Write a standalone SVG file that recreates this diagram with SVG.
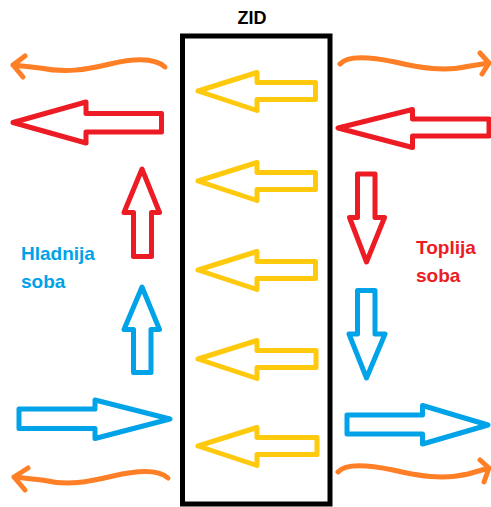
<svg xmlns="http://www.w3.org/2000/svg" width="491" height="507" viewBox="0 0 491 507">
<style>
.blk{fill:none;stroke-width:5;stroke-linejoin:round}
.y{stroke:#FFC90E}
.r{stroke:#ED1C24}
.b{stroke:#00A2E8}
.o{fill:none;stroke:#FF7F27;stroke-width:5;stroke-linecap:round;stroke-linejoin:round}
.lbl{font-family:"Liberation Sans",Arial,sans-serif;font-weight:bold;font-size:19px}
</style>
<rect width="491" height="507" fill="#fff"/>
<g id="wall">
<rect x="182.5" y="36" width="147.5" height="468" fill="none" stroke="#000" stroke-width="5"/>
<text x="252" y="24" text-anchor="middle" class="lbl" style="font-size:18px" fill="#000">ZID</text>
</g>
<g id="cold-room">
<text class="lbl" fill="#00A2E8" x="21" y="260">Hladnija</text>
<text class="lbl" fill="#00A2E8" x="21" y="287.5">soba</text>
</g>
<g id="warm-room">
<text class="lbl" fill="#ED1C24" x="416" y="254">Toplija</text>
<text class="lbl" fill="#ED1C24" x="416" y="281.5">soba</text>
</g>
<g id="connectors">
<g id="heat-through-wall">
<polygon class="blk y" points="198,91 257,72.5 257,82.5 315.5,82.5 315.5,99.5 257,99.5 257,110.5"/>
<polygon class="blk y" points="198,181 257,162.5 257,172.5 315.5,172.5 315.5,189.5 257,189.5 257,200.5"/>
<polygon class="blk y" points="198,270 257,251.5 257,261.5 315.5,261.5 315.5,278.5 257,278.5 257,289.5"/>
<polygon class="blk y" points="198,359 257,340.5 257,350.5 316,350.5 316,367.5 257,367.5 257,378.5"/>
<polygon class="blk y" points="198,446 257,427.5 257,437.5 317,437.5 317,454.5 257,454.5 257,465.5"/>
</g>
<g id="warm-air">
<polygon class="blk r" points="13,122.5 86,102 86,113.5 161.5,113.5 161.5,132 86,132 86,143"/>
<polygon class="blk r" points="338,128 412.5,109.5 412.5,119 489,119 489,136 412.5,136 412.5,147.5"/>
<polygon class="blk r" points="142,169 159.5,212.5 151.5,212.5 151.5,256.5 133.5,256.5 133.5,212.5 124,212.5"/>
<polygon class="blk r" points="366.5,262 384.5,217.5 375,217.5 375,174 357.5,174 357.5,217.5 349.5,217.5"/>
</g>
<g id="cold-air">
<polygon class="blk b" points="142,287 159.5,329.5 151,329.5 151,372.5 133.5,372.5 133.5,329.5 124,329.5"/>
<polygon class="blk b" points="366.5,378 385,334 375,334 375,290.5 357.5,290.5 357.5,334 349,334"/>
<polygon class="blk b" points="170,419 95,400 95,409 19,409 19,428.5 95,428.5 95,438.5"/>
<polygon class="blk b" points="488,425 422.5,405.5 422.5,415 347,415 347,434 422.5,434 422.5,444"/>
</g>
<g id="radiation">
<path class="o" d="M165,67 C155,58 135,58 110,64 C85,70 65,73 40,68 L13,65 M25,56 L13,65 L23,77"/>
<path class="o" d="M340,64 C348,55 370,57 395,62 C420,68 445,72 470,66 L489,63 M480,53 L489,63 L482,74"/>
<path class="o" d="M168,478 C158,469 138,470 113,476 C88,482 68,486 42,480 L14,477 M28,468 L14,477 L25,490"/>
<path class="o" d="M338,472 C346,463 368,465 393,470 C418,476 443,480 468,474 L489,468 M480,460 L489,468 L484,482"/>
</g>
</g>
</svg>
